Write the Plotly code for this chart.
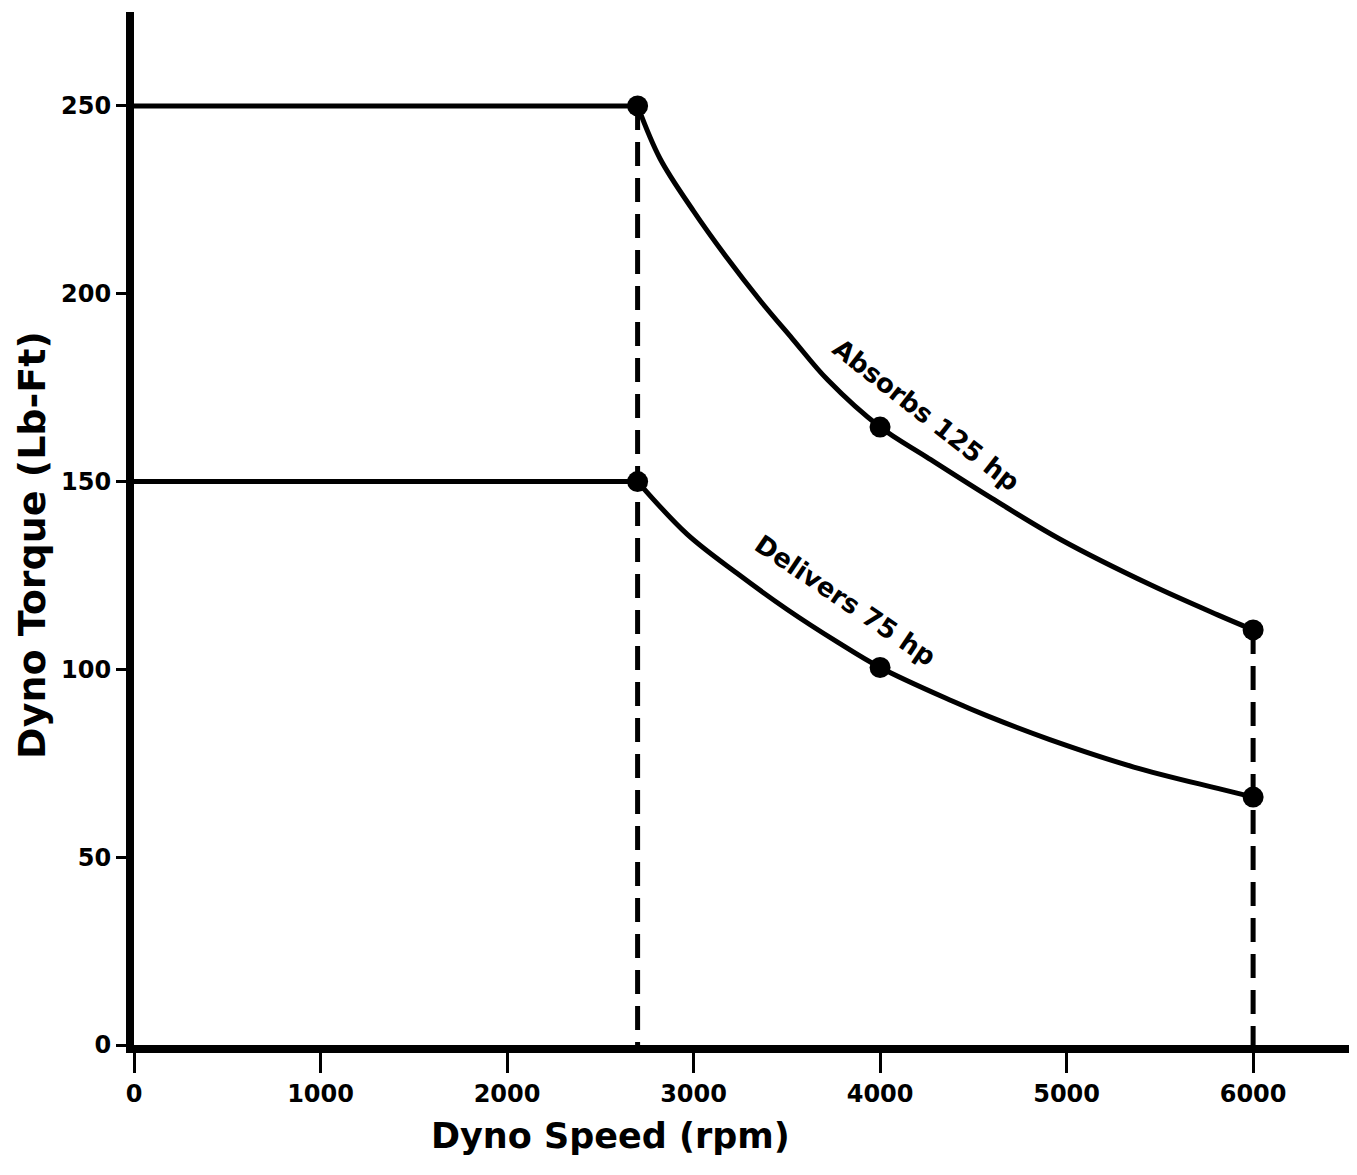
import plotly.graph_objs as go

# values
absorbs_rpm = [0, 2700, 2820, 3000, 3180, 3360, 3530, 3720, 4000, 4250, 4600, 4970, 5450, 5810, 6000]
absorbs_torque = [250, 250, 236, 222, 209.5, 198, 188, 177, 164.5, 156.5, 145.5, 134.5, 122.5, 114.5, 110.5]

delivers_rpm = [0, 2700, 2965, 3235, 3500, 3770, 4000, 4390, 4575, 4910, 5360, 5810, 6000]
delivers_torque = [150, 150, 136, 125.5, 116, 107.3, 100.5, 91.5, 87.6, 81.3, 74, 68.3, 66]

dot_rpm = [2700, 4000, 6000]
absorbs_dots = [250, 164.5, 110.5]
delivers_dots = [150, 100.5, 66]

xticks = [0, 1000, 2000, 3000, 4000, 5000, 6000]
yticks = [0, 50, 100, 150, 200, 250]

font = "DejaVu Sans"
lw = 5


def seg(x, y, shape="linear", dash="solid"):
    return go.Scatter(x=x, y=y, mode="lines",
                      line={"color": "black", "width": lw, "shape": shape,
                            "smoothing": 1.0, "dash": dash})


data = [
    # flat part then the hp curve
    seg(absorbs_rpm[:2], absorbs_torque[:2]),
    seg(absorbs_rpm[1:], absorbs_torque[1:], "spline"),
    seg(delivers_rpm[:2], delivers_torque[:2]),
    seg(delivers_rpm[1:], delivers_torque[1:], "spline"),
    # dashed drop lines
    seg([dot_rpm[0], dot_rpm[0]], [absorbs_dots[0], 0], dash="24px,12px"),
    seg([dot_rpm[2], dot_rpm[2]], [absorbs_dots[2], 0], dash="24px,12px"),
    go.Scatter(x=dot_rpm, y=absorbs_dots, mode="markers",
               marker={"color": "black", "size": 21}),
    go.Scatter(x=dot_rpm, y=delivers_dots, mode="markers",
               marker={"color": "black", "size": 21}),
]

layout = go.Layout(
    width=1357, height=1175,
    paper_bgcolor="white", plot_bgcolor="white",
    showlegend=False,
    margin={"l": 126, "r": 8, "t": 4, "b": 138},
    font={"family": font, "color": "black"},
    xaxis={
        "range": [0, 6557], "tickvals": xticks,
        "showgrid": False, "zeroline": False,
        "showline": True, "linewidth": 8, "linecolor": "black",
        "ticks": "outside", "ticklen": 20, "tickwidth": 2.5, "tickcolor": "black",
        "tickfont": {"family": font, "size": 24, "weight": "bold"},
    },
    yaxis={
        "range": [0, 275], "tickvals": yticks,
        "showgrid": False, "zeroline": False,
        "showline": True, "linewidth": 8, "linecolor": "black",
        "ticks": "outside", "ticklen": 10, "tickwidth": 2.5, "tickcolor": "black",
        "tickfont": {"family": font, "size": 24, "weight": "bold"},
    },
    annotations=[
        {"x": 4247, "y": 167.7, "text": "Absorbs 125 hp", "showarrow": False,
         "textangle": 38, "font": {"family": font, "size": 26, "weight": "bold"}},
        {"x": 3812, "y": 118.5, "text": "Delivers 75 hp", "showarrow": False,
         "textangle": 34, "font": {"family": font, "size": 26, "weight": "bold"}},
        # axis titles placed by hand, both sit off-centre in the original
        {"x": 0.39, "y": -0.067, "xref": "paper", "yref": "paper",
         "text": "Dyno Speed (rpm)", "showarrow": False, "xanchor": "center",
         "yanchor": "top", "font": {"family": font, "size": 35, "weight": "bold"}},
        {"x": -0.0835, "y": 0.484, "xref": "paper", "yref": "paper",
         "text": "Dyno Torque (Lb-Ft)", "showarrow": False, "textangle": -90,
         "xanchor": "center", "yanchor": "middle",
         "font": {"family": font, "size": 38, "weight": "bold"}},
    ],
)

fig = go.Figure(data=data, layout=layout)
fig.write_html("out.html")
